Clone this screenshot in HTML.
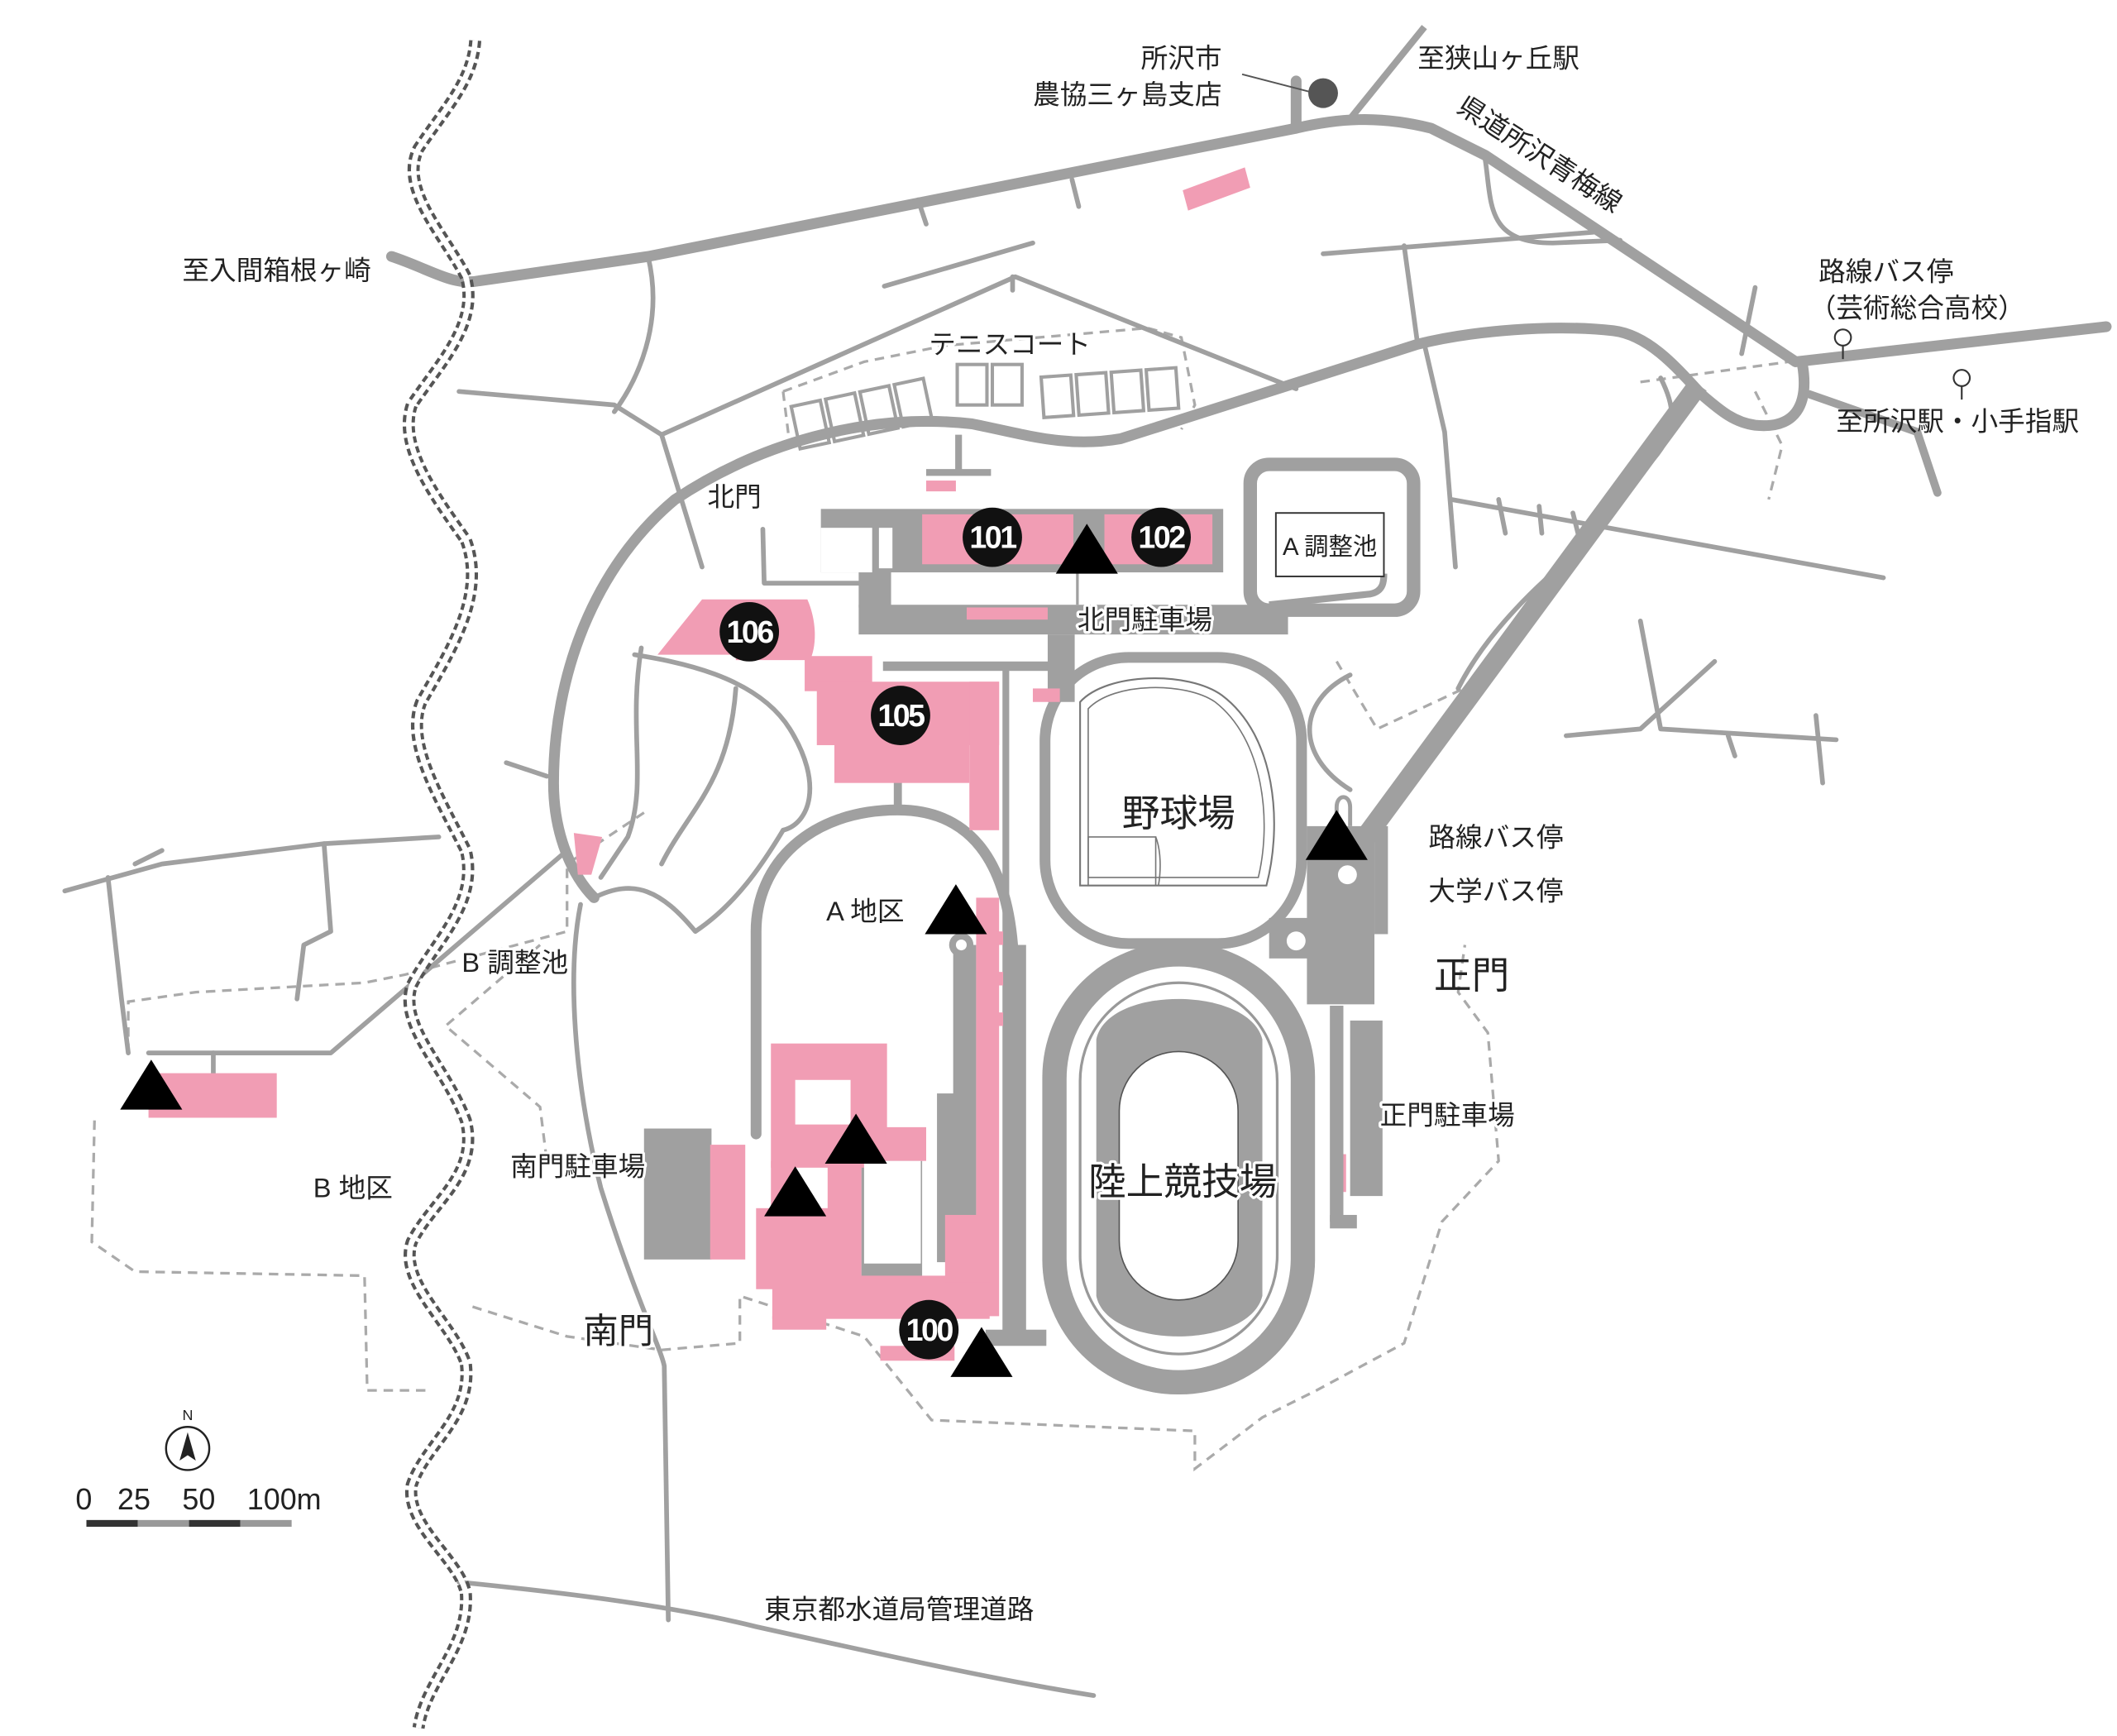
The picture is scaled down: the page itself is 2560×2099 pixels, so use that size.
<!DOCTYPE html>
<html><head><meta charset="utf-8">
<style>
html,body{margin:0;padding:0;background:#fff;}
svg{display:block;}
text{font-family:"Liberation Sans","Noto Sans CJK JP",sans-serif;fill:#222;}
.h{paint-order:stroke;stroke:#fff;stroke-width:4px;stroke-linejoin:round;}
.n{font-family:"Liberation Sans",sans-serif;font-weight:bold;fill:#fff;font-size:23px;text-anchor:middle;letter-spacing:-1.5px;}
</style></head>
<body>
<svg width="2560" height="2099" viewBox="0 0 1568 1286" preserveAspectRatio="none" xmlns="http://www.w3.org/2000/svg">
<rect width="1568" height="1286" fill="#fff"/>

<g fill="none" stroke="#aaa" stroke-width="2" stroke-dasharray="7 5">
<path d="M350,968 L420,990 L490,1000 L548,995 L548,960 L640,990 L690,1052 L885,1060 L885,1088 L935,1050 L975,1030 L1040,995 L1068,905 L1110,860 L1102,765 L1080,735 L1085,700"/>
<path d="M95,780 L95,742 L145,735 L270,728 L300,722 L420,690 L420,640 L480,600"/>
<path d="M70,830 L68,920 L100,942 L270,945 L272,1030 L320,1030"/>
<path d="M580,290 L640,268 L700,256 L850,243 L875,250 L885,300 L875,318"/>
<path d="M580,290 L585,330"/>
<path d="M1215,283 L1325,268"/>
<path d="M990,490 L1020,540 L1095,505"/>
<path d="M1300,290 L1320,330 L1310,370"/>
<path d="M400,700 L330,760 L400,820 L405,860"/>
</g>

<g fill="none" stroke="#a0a0a0" stroke-width="3.5" stroke-linecap="round" stroke-linejoin="round">
<path d="M480,190 C492,240 472,282 455,305"/>
<path d="M340,290 L455,300 L490,322 L520,420"/>
<path d="M490,322 L752,205 L960,288"/>
<path d="M655,212 L765,180"/>
<path d="M680,148 L686,166"/><path d="M794,133 L799,153"/>
<path d="M980,188 L1180,172"/>
<path d="M1040,182 L1050,255"/>
<path d="M1100,118 C1105,150 1100,180 1150,180 L1200,178"/>
<path d="M1055,255 L1070,320 L1078,420"/>
<path d="M1075,370 L1395,428"/>
<path d="M1110,370 L1115,395"/><path d="M1140,375 L1142,395"/><path d="M1165,380 L1170,400"/>
<path d="M1230,280 C1240,300 1245,320 1220,345"/>
<path d="M1215,460 L1230,540 L1360,548"/>
<path d="M1180,400 C1140,430 1100,470 1080,510"/>
<path d="M1160,545 L1215,540 L1270,490"/>
<path d="M1345,530 L1350,580"/>
<path d="M1280,545 L1285,560"/>
<path d="M1300,213 L1290,262"/>
<path d="M48,660 L120,640 L240,625 L325,620"/>
<path d="M80,650 L90,740 L95,780"/>
<path d="M110,780 L245,780 L420,630"/>
<path d="M240,625 L245,690 L225,700 L220,740"/>
<path d="M158,780 L158,795"/>
<path d="M375,565 L405,575"/>
<path d="M440,665 C470,650 490,660 515,690 C545,670 565,640 580,615"/>
<path d="M470,485 C500,490 560,500 585,540 C610,580 600,610 580,615"/>
<path d="M475,480 C465,540 480,580 465,620 L445,650"/>
<path d="M490,640 C510,600 540,580 545,510"/>
<path d="M430,670 C420,720 425,800 445,880 C470,960 490,1000 492,1012 L495,1200"/>
<path d="M340,1172 C420,1180 500,1190 560,1205 C650,1225 740,1245 810,1256"/>
<path d="M100,640 L120,630"/>
<path d="M565,392 L566,432 L636,432"/>
<path d="M750,205 L750,215"/>
<path d="M1000,500 C960,520 960,560 1000,585"/>
</g>

<g fill="none" stroke="#a0a0a0" stroke-width="8" stroke-linecap="round" stroke-linejoin="round">
<path d="M290,190 C320,200 335,212 355,208 L480,190 L960,95 C990,88 1020,85 1060,95 L1100,115 L1330,268 L1560,242"/>
<path d="M960,95 L960,60"/>
<path d="M1335,270 C1340,300 1330,318 1300,315 C1285,313 1275,305 1260,292 C1240,270 1220,248 1195,245 C1150,240 1090,245 1050,255 L830,325 C790,332 760,322 720,314 C640,305 560,330 500,370 C440,420 410,500 410,580 C410,620 425,650 440,665"/>
<path d="M1340,292 L1420,320 L1435,365" stroke-width="6"/>
<path d="M560,840 L560,690 C560,640 600,600 665,600 C720,600 745,640 750,700"/>
<path d="M745,495 L745,990" stroke-width="5"/>
<path d="M665,578 L665,600" stroke-width="6"/>
<rect x="774" y="487" width="190" height="212" rx="62"/>
<path d="M965,700 L1000,700"/>
</g>
<path d="M1000,88 L1055,20" stroke="#a0a0a0" stroke-width="5" fill="none"/>
<path d="M1258,285 L1010,622" stroke="#a0a0a0" stroke-width="15" fill="none"/>

<path d="M352,30 C350,60 330,80 310,110 C295,140 330,175 345,205 C355,240 325,270 305,300 C295,330 320,365 345,400 C360,440 335,480 312,520 C300,550 325,590 345,630 C355,670 320,700 305,730 C295,760 330,790 345,830 C355,870 320,890 305,920 C295,950 335,980 345,1010 C350,1050 315,1070 305,1100 C300,1130 340,1155 345,1180 C348,1220 315,1245 310,1280" fill="none" stroke="#555" stroke-width="9" stroke-dasharray="5 3"/>
<path d="M352,30 C350,60 330,80 310,110 C295,140 330,175 345,205 C355,240 325,270 305,300 C295,330 320,365 345,400 C360,440 335,480 312,520 C300,550 325,590 345,630 C355,670 320,700 305,730 C295,760 330,790 345,830 C355,870 320,890 305,920 C295,950 335,980 345,1010 C350,1050 315,1070 305,1100 C300,1130 340,1155 345,1180 C348,1220 315,1245 310,1280" fill="none" stroke="#fff" stroke-width="4"/>

<g fill="none" stroke="#a0a0a0" stroke-width="2.5">
<g transform="rotate(-12 640 305)">
<rect x="588" y="290" width="22" height="32"/><rect x="614" y="290" width="22" height="32"/><rect x="640" y="290" width="22" height="32"/><rect x="666" y="290" width="22" height="32"/></g>
<rect x="709" y="270" width="22" height="30"/><rect x="735" y="270" width="22" height="30"/>
<g transform="rotate(-4 820 290)">
<rect x="772" y="276" width="22" height="30"/><rect x="798" y="276" width="22" height="30"/><rect x="824" y="276" width="22" height="30"/><rect x="850" y="276" width="22" height="30"/></g>
</g>
<path d="M710,322 L710,350 M686,350 L734,350" stroke="#a0a0a0" stroke-width="5" fill="none"/>

<g fill="#a0a0a0">
<rect x="608" y="377" width="298" height="47"/>
<rect x="636" y="448" width="318" height="22"/>
<rect x="636" y="420" width="24" height="30"/>
<rect x="654" y="490" width="140" height="7"/>
<rect x="776" y="470" width="20" height="50"/>
</g>
<rect x="608" y="391" width="38" height="33" fill="#fff"/>
<rect x="651" y="391" width="10" height="30" fill="#fff"/>
<path d="M798,424 L798,448" stroke="#a0a0a0" stroke-width="2"/>
<rect x="683" y="381" width="112" height="37" fill="#f19db4"/>
<rect x="818" y="381" width="80" height="37" fill="#f19db4"/>
<rect x="716" y="450" width="60" height="9" fill="#f19db4"/>
<rect x="686" y="356" width="22" height="8" fill="#f19db4"/>
<rect x="765" y="510" width="20" height="10" fill="#f19db4"/>
<rect x="926" y="344" width="121" height="108" rx="14" fill="none" stroke="#a0a0a0" stroke-width="10"/>
<path d="M940,448 L1015,440 C1025,438 1025,430 1025,425" fill="none" stroke="#a0a0a0" stroke-width="5"/>
<rect x="945" y="380" width="80" height="47" fill="#fff" stroke="#333" stroke-width="1.2"/>
<text x="985" y="411" font-size="18" text-anchor="middle">A 調整池</text>

<g fill="#f19db4">
<path d="M487,485 L520,444 L598,444 C605,460 605,478 600,489 L545,489 L545,485 Z"/>
<rect x="596" y="486" width="50" height="26"/>
<rect x="605" y="505" width="135" height="47"/>
<rect x="618" y="550" width="100" height="30"/>
<rect x="718" y="505" width="22" height="110"/>
</g>

<path d="M876,141 L922,124 L926,139 L880,156 Z" fill="#f19db4"/>
<path d="M425,617 L446,620 L438,648 L428,648 Z" fill="#f19db4"/>
<rect x="110" y="795" width="95" height="33" fill="#f19db4"/>
<rect x="988" y="855" width="9" height="28" fill="#f19db4"/>

<path d="M800,520 C820,498 880,497 905,515 C945,545 950,610 938,656 L800,656 Z" fill="#fff" stroke="#777" stroke-width="1.3"/>
<path d="M806,525 C825,505 878,505 900,520 C936,548 942,608 932,650 L806,650 Z" fill="none" stroke="#777" stroke-width="1"/>
<rect x="806" y="620" width="50" height="36" fill="none" stroke="#777" stroke-width="1"/>
<path d="M856,620 C860,630 860,645 858,656" fill="none" stroke="#777" stroke-width="1"/>

<g fill="#a0a0a0">
<rect x="968" y="612" width="50" height="132"/>
<rect x="940" y="680" width="40" height="30"/>
<rect x="1000" y="756" width="24" height="130"/>
<rect x="985" y="745" width="10" height="160"/>
<rect x="985" y="900" width="20" height="10"/>
<rect x="1018" y="612" width="10" height="80"/>
</g>
<circle cx="998" cy="648" r="7" fill="#fff"/>
<circle cx="960" cy="697" r="7" fill="#fff"/>
<path d="M990,612 L990,598 C990,588 1000,588 1000,598 L1000,612" fill="none" stroke="#a0a0a0" stroke-width="3"/>

<path d="M745,700 L760,700 L760,995 L745,995" fill="#a0a0a0"/>
<rect x="772" y="698" width="202" height="335" rx="100" fill="#a0a0a0"/>
<rect x="790" y="716" width="166" height="299" rx="83" fill="#fff"/>
<rect x="800" y="728" width="146" height="275" rx="73" fill="#fff" stroke="#999" stroke-width="2"/>
<path d="M812,770 C820,730 925,730 935,770 L935,960 C925,1000 820,1000 812,960 Z" fill="#a0a0a0"/>
<rect x="829" y="779" width="88" height="184" rx="44" fill="#fff" stroke="#555" stroke-width="1"/>

<g fill="#a0a0a0">
<rect x="706" y="700" width="17" height="260"/>
<rect x="694" y="810" width="18" height="125"/>
<rect x="638" y="860" width="45" height="90"/>
<rect x="477" y="836" width="50" height="97"/>
<rect x="730" y="985" width="45" height="12"/>
<circle cx="712" cy="700" r="9"/>
</g>
<circle cx="712" cy="700" r="4" fill="#fff"/>
<g fill="#f19db4">
<rect x="723" y="665" width="17" height="310"/>
<rect x="738" y="690" width="5" height="10"/><rect x="738" y="720" width="5" height="10"/><rect x="738" y="750" width="5" height="10"/>
<rect x="571" y="773" width="86" height="92"/>
<rect x="630" y="835" width="56" height="25"/>
<rect x="560" y="895" width="78" height="60"/>
<rect x="613" y="860" width="25" height="45"/>
<rect x="571" y="860" width="18" height="40"/>
<rect x="572" y="945" width="161" height="32"/>
<rect x="700" y="900" width="33" height="50"/>
<rect x="572" y="975" width="40" height="10"/>
<rect x="526" y="848" width="26" height="85"/>
<rect x="652" y="997" width="55" height="11"/>
</g>
<rect x="589" y="800" width="41" height="33" fill="#fff"/>
<rect x="640" y="860" width="42" height="76" fill="#fff"/>

<g fill="#000">
<path d="M805,388 L828,425 L782,425 Z"/>
<path d="M708,655 L731,692 L685,692 Z"/>
<path d="M990,600 L1013,637 L967,637 Z"/>
<path d="M634,825 L657,862 L611,862 Z"/>
<path d="M589,864 L612,901 L566,901 Z"/>
<path d="M727,983 L750,1020 L704,1020 Z"/>
<path d="M112,785 L135,822 L89,822 Z"/>
</g>

<g fill="#111">
<circle cx="735" cy="398" r="22"/><circle cx="860" cy="398" r="22"/>
<circle cx="555" cy="468" r="22"/><circle cx="667" cy="530" r="22"/>
<circle cx="688" cy="985" r="22"/>
</g>
<text class="n" x="735" y="406">101</text>
<text class="n" x="860" y="406">102</text>
<text class="n" x="555" y="476">106</text>
<text class="n" x="667" y="538">105</text>
<text class="n" x="688" y="993">100</text>

<path d="M920,55 L970,68" stroke="#555" stroke-width="1.2"/>
<circle cx="980" cy="69" r="11" fill="#555"/>
<g fill="none" stroke="#333" stroke-width="1.3">
<circle cx="1365" cy="250" r="6"/><path d="M1365,256 L1365,266"/>
<circle cx="1453" cy="280" r="6"/><path d="M1453,286 L1453,296"/>
</g>

<g font-size="20">
<text x="905" y="50" text-anchor="end">所沢市</text>
<text x="905" y="77" text-anchor="end">農協三ヶ島支店</text>
<text x="1050" y="50">至狭山ヶ丘駅</text>
<text x="1078" y="82" transform="rotate(33 1078 82)">県道所沢青梅線</text>
<text x="135" y="207">至入間箱根ヶ崎</text>
<text x="688" y="262" class="h">テニスコート</text>
<text x="1347" y="208">路線バス停</text>
<text x="1340" y="235">（芸術総合高校）</text>
<text x="1360" y="319">至所沢駅・小手指駅</text>
<text x="524" y="375">北門</text>
<text x="798" y="466" class="h">北門駐車場</text>
<text x="1058" y="627">路線バス停</text>
<text x="1058" y="667">大学バス停</text>
<text x="612" y="682">A 地区</text>
<text x="342" y="720" class="h">B 調整池</text>
<text x="1022" y="833" class="h">正門駐車場</text>
<text x="378" y="871" class="h">南門駐車場</text>
<text x="232" y="887">B 地区</text>
<text x="566" y="1199" class="h">東京都水道局管理道路</text>
</g>
<text x="873" y="612" font-size="28" text-anchor="middle" class="h">野球場</text>
<text x="876" y="885" font-size="28" text-anchor="middle" class="h">陸上競技場</text>
<text x="1062" y="732" font-size="28">正門</text>
<text x="432" y="995" font-size="26" class="h">南門</text>

<text x="139" y="1052" font-size="11" text-anchor="middle">N</text>
<circle cx="139" cy="1073" r="16" fill="#fff" stroke="#222" stroke-width="1.5"/>
<path d="M139,1061 L145,1082 L139,1078 L133,1082 Z" fill="#222"/>
<g font-size="22">
<text x="56" y="1118">0</text>
<text x="87" y="1118">25</text>
<text x="135" y="1118">50</text>
<text x="183" y="1118">100m</text>
</g>
<rect x="64" y="1126" width="38" height="5" fill="#333"/>
<rect x="102" y="1126" width="38" height="5" fill="#999"/>
<rect x="140" y="1126" width="38" height="5" fill="#333"/>
<rect x="178" y="1126" width="38" height="5" fill="#999"/>
</svg>
</body></html>
